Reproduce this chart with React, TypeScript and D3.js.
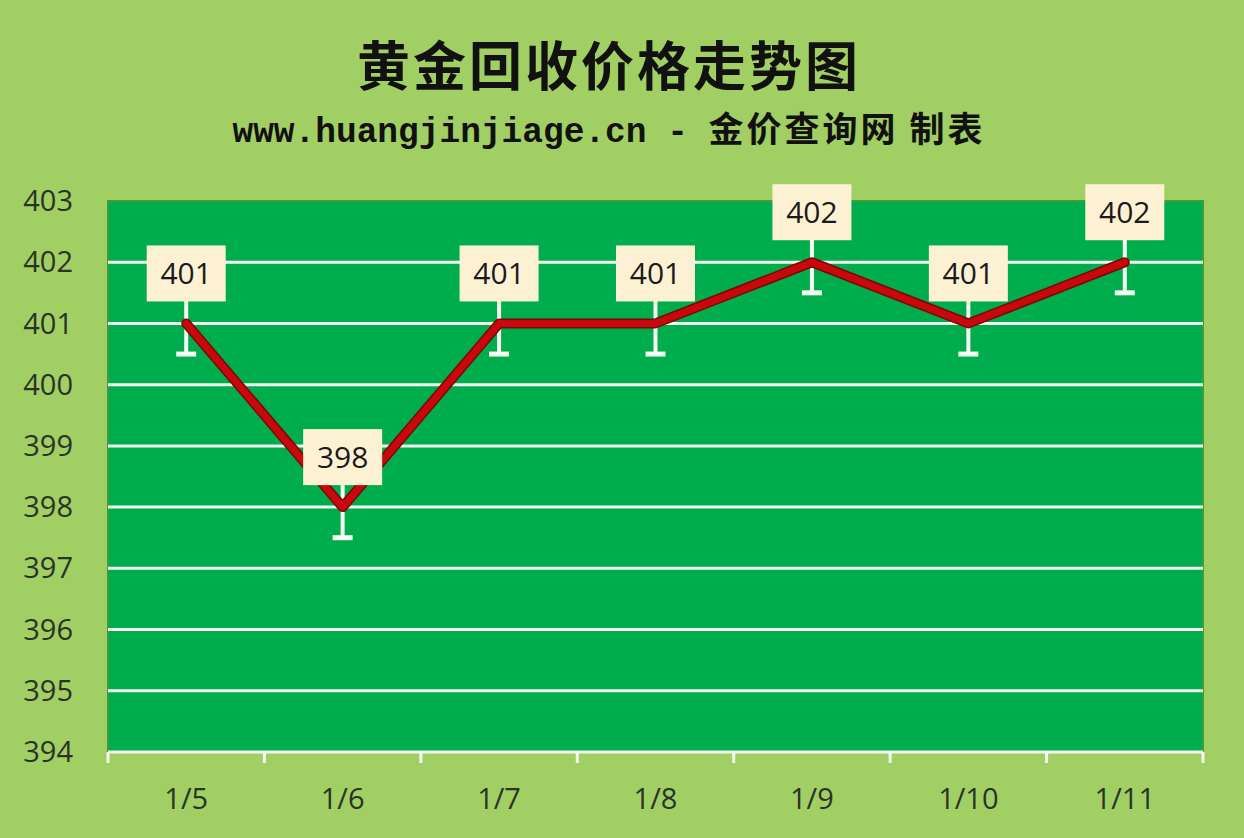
import * as d3 from "d3";

const categories = ["1/5", "1/6", "1/7", "1/8", "1/9", "1/10", "1/11"];
const prices = [401, 398, 401, 401, 402, 401, 402];
const errorMargin = 0.5;
const yDomain = [394, 403];

const title = "黄金回收价格走势图";
const subtitleLatin = "www.huangjinjiage.cn - ";
const subtitleCjk = "金价查询网 制表";

const W = 1244;
const H = 838;
const margin = { top: 201, right: 41, bottom: 86, left: 108 };

const numFont = "'Open Sans', 'Liberation Sans', sans-serif";

export default function App() {
  const x = d3
    .scaleBand<string>()
    .domain(categories)
    .range([margin.left, W - margin.right]);
  const y = d3
    .scaleLinear()
    .domain(yDomain)
    .range([H - margin.bottom, margin.top]);

  const cx = (c: string) => (x(c) ?? 0) + x.bandwidth() / 2;
  const yTicks = y.ticks(9);

  const points = categories.map((c, i) => [cx(c), y(prices[i])] as [number, number]);
  const linePath = d3.line().curve(d3.curveLinear)(points) ?? "";

  const boxW = 79;
  const boxH = 56;
  const boxGap = 22;

  return (
    <svg
      width={W}
      height={H}
      style={{ position: "absolute", left: 0, top: 0, display: "block" }}
    >
      <rect x={0} y={0} width={W} height={H} fill="#a1cf63" />

      {/* titles */}
      <text
        x={609}
        y={86}
        textAnchor="middle"
        fontFamily="'Noto Sans CJK SC', sans-serif"
        fontWeight={600}
        fontSize={53}
        fill="#111"
        letterSpacing={3}
      >
        {title}
      </text>
      <text x={609} y={142} textAnchor="middle" fill="#111" fontWeight={700}>
        <tspan fontFamily="'Liberation Mono', monospace" fontSize={34.5}>
          {subtitleLatin}
        </tspan>
        <tspan fontFamily="'Noto Sans CJK SC', sans-serif" fontSize={35} letterSpacing={3}>
          {subtitleCjk}
        </tspan>
      </text>

      {/* plot area */}
      <rect
        x={margin.left}
        y={margin.top}
        width={W - margin.left - margin.right}
        height={H - margin.top - margin.bottom}
        fill="#00ad4c"
        stroke="#3f9c3c"
        strokeWidth={2}
      />

      {/* gridlines */}
      {yTicks
        .filter((t) => t !== yDomain[1])
        .map((t) => (
          <line
            key={t}
            x1={margin.left}
            x2={W - margin.right}
            y1={y(t)}
            y2={y(t)}
            stroke="#f4faf0"
            strokeWidth={3}
          />
        ))}

      {/* x axis ticks */}
      {d3.range(categories.length + 1).map((i) => {
        const xx = margin.left + i * x.step();
        return (
          <line
            key={i}
            x1={xx}
            x2={xx}
            y1={y(yDomain[0])}
            y2={y(yDomain[0]) + 11}
            stroke="#f4faf0"
            strokeWidth={3}
          />
        );
      })}

      {/* y tick labels */}
      {yTicks.map((t) => (
        <text
          key={t}
          x={73}
          y={y(t)}
          dy="0.35em"
          textAnchor="end"
          fontFamily={numFont}
          fontSize={29}
          fill="#2a3326"
        >
          {t}
        </text>
      ))}

      {/* x tick labels */}
      {categories.map((c) => (
        <text
          key={c}
          x={cx(c)}
          y={799}
          dy="0.35em"
          textAnchor="middle"
          fontFamily={numFont}
          fontSize={29}
          fill="#2a3326"
        >
          {c}
        </text>
      ))}

      {/* error bars */}
      {categories.map((c, i) => {
        const xx = cx(c);
        const yLow = y(prices[i] - errorMargin);
        const yHigh = y(prices[i] + errorMargin);
        return (
          <g key={c} stroke="#f6fbf4" strokeWidth={4}>
            <line x1={xx} x2={xx} y1={yHigh} y2={yLow} />
            <line x1={xx - 10} x2={xx + 10} y1={yLow} y2={yLow} strokeWidth={5} />
          </g>
        );
      })}

      {/* line */}
      <path
        d={linePath}
        fill="none"
        stroke="#7c0606"
        strokeWidth={10}
        strokeLinejoin="round"
        strokeLinecap="round"
      />
      <path
        d={linePath}
        fill="none"
        stroke="#c8080c"
        strokeWidth={7}
        strokeLinejoin="round"
        strokeLinecap="round"
      />

      {/* data labels */}
      {categories.map((c, i) => {
        const xx = cx(c);
        const yy = y(prices[i]);
        const top = yy - boxGap - boxH;
        return (
          <g key={c}>
            <rect x={xx - boxW / 2} y={top} width={boxW} height={boxH} fill="#fdf1d4" />
            <text
              x={xx}
              y={top + boxH / 2}
              dy="0.36em"
              textAnchor="middle"
              fontFamily={numFont}
              fontSize={30}
              fill="#1a1a1a"
            >
              {prices[i]}
            </text>
          </g>
        );
      })}
    </svg>
  );
}
